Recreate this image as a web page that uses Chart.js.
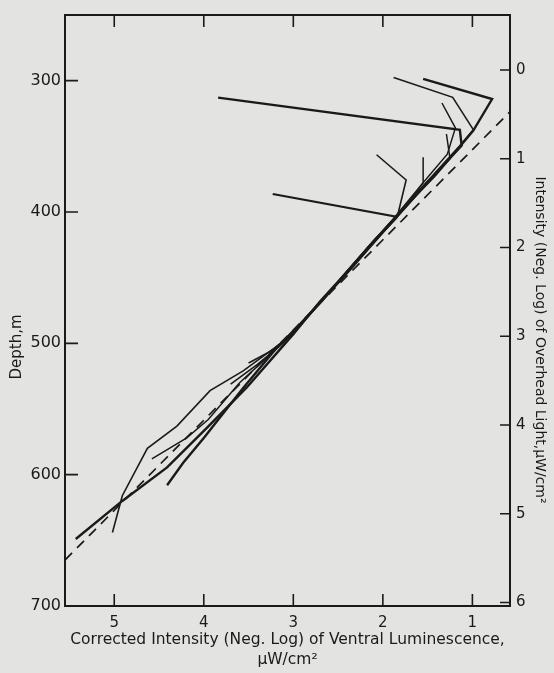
<!DOCTYPE html>
<html>
<head>
<meta charset="utf-8">
<title>Ventral luminescence vs depth</title>
<script src="https://cdn.jsdelivr.net/npm/chart.js@4/dist/chart.umd.min.js"></script>
<style>
  html, body { margin: 0; padding: 0; background: #e3e3e1; }
  #wrap { position: relative; width: 554px; height: 673px; }
</style>
</head>
<body>
<div id="wrap"><canvas id="chart"></canvas></div>
<script>
// axis ticks
var xTicks = [1, 2, 3, 4, 5];
var depthTicks = [300, 400, 500, 600, 700];
var overheadTicks = [0, 1, 2, 3, 4, 5, 6];

// each trace: corrected intensity (neg. log) and depth in m
var traceAx = [1.55, 0.78, 0.99, 1.20, 1.52, 1.83, 2.12, 2.42, 2.70, 3.00, 3.52, 3.96, 4.41, 4.91, 5.43];
var traceAy = [298.7, 314, 338, 355, 379, 402, 424, 447, 468, 493, 533.6, 564, 594.5, 620, 649];
var traceBx = [1.88, 1.22, 0.99, 1.16, 1.40, 1.60, 1.86, 2.13, 2.40, 2.62, 2.85, 3.00, 3.56, 3.93, 4.30, 4.63, 4.91, 5.02];
var traceBy = [297.5, 312.7, 337.3, 351, 369, 384, 404, 424, 445, 463, 480, 493, 521, 536, 563, 580, 616, 644];
var traceCx = [3.84, 1.14, 1.12, 1.32, 1.58, 1.85, 2.10, 2.38, 2.66, 2.92, 3.18, 3.56, 4.00, 4.23, 4.41];
var traceCy = [312.9, 337.5, 349.5, 364, 383, 404, 422, 444, 466, 485, 503, 534, 572, 591, 608];
var traceDx = [1.34, 1.19, 1.28, 1.48, 1.70, 1.88, 2.14, 2.43, 2.68, 2.95, 3.20, 3.60, 3.95, 4.19, 4.58];
var traceDy = [317, 336, 356, 372, 390, 405, 425, 448, 467, 488, 505, 530, 558, 572, 588];
var traceEx = [1.29, 1.25, 1.42, 1.62, 1.87, 2.12, 2.45, 2.72, 3.00, 3.20];
var traceEy = [340.6, 359.4, 373, 387, 406, 425, 450, 470, 492, 503];
var traceFx = [2.07, 1.74, 1.84, 2.08, 2.36, 2.62, 2.88, 3.12, 3.40, 3.70];
var traceFy = [356.4, 375.6, 404, 421, 443, 462, 482, 500, 516, 531];
var traceGx = [1.55, 1.55, 1.70, 1.90, 2.18, 2.46, 2.68, 2.93, 3.17, 3.50];
var traceGy = [358.4, 377.7, 391, 407, 428, 450, 468, 487, 503, 515];
var traceHx = [3.23, 1.85, 2.06, 2.34, 2.62, 2.90, 3.16];
var traceHy = [386.3, 403.6, 420, 442, 463, 484, 502];

// overhead light line (dashed)
var overheadX = [5.55, 0.57];
var overheadY = [665, 323];

var INK = '#1a1a1a';
var FONT = '"DejaVu Sans", sans-serif';

function pts(xs, ys) {
  return xs.map(function (x, i) { return { x: x, y: ys[i] }; });
}

function trace(xs, ys, width) {
  return {
    data: pts(xs, ys),
    showLine: true,
    borderColor: INK,
    borderWidth: width,
    pointRadius: 0,
    tension: 0,
    yAxisID: 'y'
  };
}

var datasets = [
  trace(traceAx, traceAy, 2.4),
  trace(traceBx, traceBy, 1.6),
  trace(traceCx, traceCy, 2.4),
  trace(traceDx, traceDy, 1.5),
  trace(traceEx, traceEy, 1.5),
  trace(traceFx, traceFy, 1.6),
  trace(traceGx, traceGy, 1.5),
  trace(traceHx, traceHy, 2.2),
  {
    data: pts(overheadX, overheadY),
    showLine: true,
    borderColor: INK,
    borderWidth: 1.7,
    borderDash: [10, 7],
    pointRadius: 0,
    yAxisID: 'y'
  }
];

function setTicks(values) {
  return function (scale) {
    scale.ticks = values.map(function (v) { return { value: v }; });
  };
}

// frame, inward tick marks and the two side titles
var framePlugin = {
  id: 'frame',
  afterDraw: function (chart) {
    var ctx = chart.ctx;
    var a = chart.chartArea;
    var sx = chart.scales.x, sy = chart.scales.y, s2 = chart.scales.y2;
    ctx.save();
    ctx.strokeStyle = INK;
    ctx.lineWidth = 2;
    ctx.strokeRect(a.left, a.top, a.right - a.left, a.bottom - a.top);
    ctx.lineWidth = 1.6;
    ctx.beginPath();
    xTicks.forEach(function (v) {
      var px = sx.getPixelForValue(v);
      ctx.moveTo(px, a.bottom); ctx.lineTo(px, a.bottom - 12);
      ctx.moveTo(px, a.top); ctx.lineTo(px, a.top + 12);
    });
    depthTicks.forEach(function (v) {
      var py = sy.getPixelForValue(v);
      ctx.moveTo(a.left, py); ctx.lineTo(a.left + 13, py);
    });
    overheadTicks.forEach(function (v) {
      var py = s2.getPixelForValue(v);
      ctx.moveTo(a.right, py); ctx.lineTo(a.right - 10, py);
    });
    ctx.stroke();

    ctx.fillStyle = INK;
    ctx.textAlign = 'center';
    ctx.textBaseline = 'middle';
    ctx.font = '15px ' + FONT;
    ctx.translate(17, 347);
    ctx.rotate(-Math.PI / 2);
    ctx.fillText('Depth,m', 0, 0);
    ctx.setTransform(chart.currentDevicePixelRatio, 0, 0, chart.currentDevicePixelRatio, 0, 0);
    ctx.font = '14px ' + FONT;
    ctx.translate(540, 340);
    ctx.rotate(Math.PI / 2);
    ctx.fillText('Intensity (Neg. Log) of Overhead Light,\u03BCW/cm\u00B2', 0, 0, 332);
    ctx.restore();
  }
};

new Chart(document.getElementById('chart'), {
  type: 'scatter',
  data: { datasets: datasets },
  options: {
    responsive: true,
    maintainAspectRatio: false,
    animation: false,
    layout: { padding: { top: 14, left: 0, right: 0, bottom: 0 } },
    plugins: { legend: { display: false }, tooltip: { enabled: false } },
    scales: {
      x: {
        type: 'linear',
        position: 'bottom',
        reverse: true,
        min: 0.58,
        max: 5.55,
        afterBuildTicks: setTicks(xTicks),
        afterFit: function (s) { s.height = 67; },
        grid: { display: false, drawTicks: false },
        border: { display: false },
        ticks: { color: INK, padding: 8, font: { family: FONT, size: 15 } },
        title: {
          display: true,
          text: ['Corrected Intensity (Neg. Log) of Ventral Luminescence,', '\u03BCW/cm\u00B2'],
          color: INK,
          padding: { top: 0, bottom: 3 },
          font: { family: FONT, size: 15.5, lineHeight: '20px' }
        }
      },
      y: {
        type: 'linear',
        position: 'left',
        reverse: true,
        min: 250,
        max: 700,
        afterBuildTicks: setTicks(depthTicks),
        afterFit: function (s) { s.width = 65; },
        grid: { display: false, drawTicks: false },
        border: { display: false },
        ticks: { color: INK, padding: 4, font: { family: FONT, size: 16 } }
      },
      y2: {
        type: 'linear',
        position: 'right',
        reverse: true,
        min: -0.62,
        max: 6.04,
        afterBuildTicks: setTicks(overheadTicks),
        afterFit: function (s) { s.width = 44; },
        grid: { display: false, drawTicks: false },
        border: { display: false },
        ticks: { color: INK, padding: 6, font: { family: FONT, size: 15 } }
      }
    }
  },
  plugins: [framePlugin]
});
</script>
</body>
</html>
